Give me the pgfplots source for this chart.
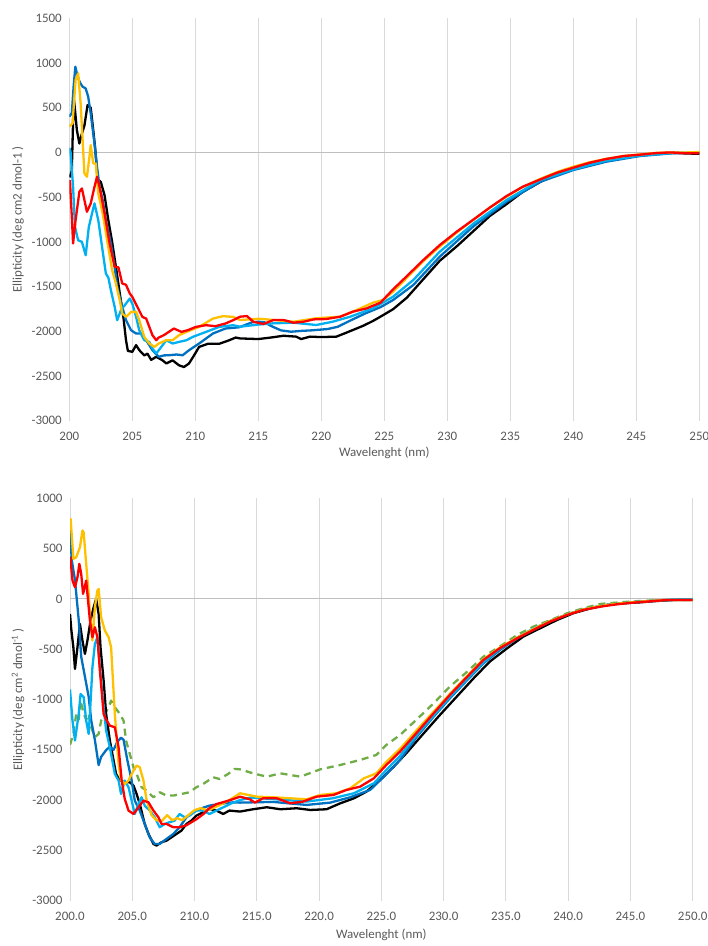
\documentclass[border=0pt]{standalone}
\usepackage{fontspec}
\setmainfont{Carlito}
\usepackage{pgfplots}
\pgfplotsset{compat=1.18}
\definecolor{txt}{HTML}{595959}
\definecolor{grd}{HTML}{D9D9D9}
\definecolor{zer}{HTML}{BFBFBF}
\definecolor{dblue}{RGB}{0,112,192}
\definecolor{lblue}{RGB}{0,176,240}
\definecolor{gold}{RGB}{255,192,0}
\definecolor{xred}{RGB}{255,0,0}
\definecolor{xgreen}{RGB}{112,173,71}
\pgfplotsset{
 cdstyle/.style={
  anchor=south west,
  scale only axis,
  xmin=200, xmax=250,
  axis line style={draw=none},
  major tick length=0pt,
  xtick={200,205,...,250},
  xmajorgrids,
  grid style={grd, line width=1bp},
  extra y ticks={0}, extra y tick labels={},
  extra y tick style={grid=major, grid style={zer, line width=1bp}},
  tick label style={font=\fontsize{13}{15}\selectfont, text=txt},
  label style={font=\fontsize{13}{15}\selectfont, text=txt},
  xticklabel style={yshift=-8bp},
  yticklabel style={xshift=-4bp},
  every axis plot/.append style={line width=2.3bp, line join=round, no marks},
  xlabel={Wavelenght (nm)},
 }
}
\begin{document}
\begin{tikzpicture}
\useasboundingbox (0,0) rectangle (708bp,946bp);
% ---------------- TOP PANEL ----------------
\begin{axis}[cdstyle,
  at={(69.3bp,525.3bp)}, width=630bp, height=402.4bp,
  ymin=-3000, ymax=1500,
  ytick={-3000,-2500,...,1500},
  yticklabels={-3000,-2500,-2000,-1500,-1000,-500,0,500,1000,1500},
  xticklabels={200,205,210,215,220,225,230,235,240,245,250},
  ylabel={Ellipticity (deg cm2 dmol-1 )},
  ylabel style={at={(axis description cs:-0.0814,0.5)}, anchor=center},
  xlabel style={at={(axis description cs:0.5,-0.079)}, anchor=center},
]
\addplot[black] coordinates {
(200.05,-280)(200.2,-200)(200.35,620)(200.45,480)(200.6,250)(200.8,100)(201.0,210)(201.2,300)(201.45,530)(201.7,500)(201.9,250)(202.05,50)(202.25,-300)(202.5,-330)(202.8,-480)(203.1,-760)(203.4,-1000)(203.7,-1280)(204.0,-1570)(204.3,-1850)(204.5,-2100)(204.65,-2220)(205.0,-2230)(205.3,-2155)(205.55,-2210)(205.95,-2270)(206.2,-2250)(206.5,-2320)(206.9,-2285)(207.4,-2325)(207.7,-2360)(208.2,-2325)(208.7,-2380)(209.1,-2400)(209.5,-2360)(209.9,-2270)(210.3,-2175)(211.0,-2140)(211.9,-2140)(212.7,-2100)(213.2,-2070)(213.55,-2080)(215.0,-2087)(216.0,-2070)(217.0,-2050)(218.0,-2060)(218.4,-2087)(219.1,-2060)(220.0,-2065)(221.2,-2060)(222.0,-2015)(223.3,-1940)(224.1,-1885)(224.9,-1820)(225.7,-1753)(226.8,-1623)(228.1,-1417)(229.4,-1212)(230.8,-1044)(232.1,-876)(233.4,-708)(234.7,-578)(236.0,-440)(237.4,-328)(238.7,-235)(240.0,-186)(241.3,-130)(242.6,-75)(244.0,-56)(245.3,-30)(246.6,-10)(248.0,-5)(249.0,-12)(250.0,-15)
};
\addplot[dblue] coordinates {
(200.0,400)(200.2,440)(200.35,750)(200.48,959)(200.66,847)(200.85,780)(201.06,735)(201.3,716)(201.5,623)(201.7,436)(202.0,100)(202.2,-160)(202.4,-384)(202.65,-533)(202.9,-757)(203.3,-1018)(203.6,-1279)(203.8,-1503)(204.2,-1727)(204.5,-1876)(204.9,-1988)(205.3,-2025)(205.7,-2025)(206.1,-2100)(206.6,-2212)(207.1,-2286)(207.5,-2270)(207.9,-2268)(208.5,-2260)(209.0,-2268)(209.5,-2212)(210.3,-2137)(211.4,-2025)(212.4,-1969)(213.5,-1955)(214.5,-1900)(215.0,-1893)(215.5,-1900)(216.0,-1940)(216.8,-1990)(217.6,-2005)(218.5,-1995)(219.2,-1990)(220.5,-1975)(221.3,-1950)(222.3,-1880)(223.5,-1800)(224.7,-1730)(225.7,-1650)(227.3,-1483)(229.4,-1166)(232.1,-823)(234.7,-551)(237.4,-327)(240.0,-197)(242.6,-104)(245.3,-40)(248.0,-8)(250.0,-5)
};
\addplot[lblue] coordinates {
(200.0,50)(200.1,7)(200.3,-385)(200.45,-833)(200.7,-982)(201.0,-1000)(201.3,-1150)(201.55,-833)(201.8,-684)(202.0,-570)(202.3,-758)(202.6,-1056)(202.9,-1354)(203.1,-1400)(203.3,-1540)(203.6,-1727)(203.8,-1876)(204.1,-1764)(204.5,-1690)(204.8,-1634)(205.0,-1690)(205.3,-1839)(205.55,-1988)(205.95,-2100)(206.35,-2119)(206.6,-2193)(206.9,-2249)(207.3,-2175)(207.7,-2100)(208.2,-2137)(208.7,-2119)(209.3,-2100)(209.8,-2063)(210.85,-2007)(211.9,-1951)(213.0,-1932)(213.55,-1949)(215.0,-1925)(216.2,-1911)(217.8,-1904)(219.6,-1930)(220.9,-1893)(222.3,-1837)(224.1,-1744)(225.7,-1613)(227.3,-1427)(229.4,-1110)(232.1,-793)(234.7,-532)(237.4,-308)(240.0,-189)(242.6,-92)(245.3,-36)(248.0,-5)(250.0,0)
};
\addplot[gold] coordinates {
(200.0,287)(200.26,325)(200.5,810)(200.7,884)(200.9,548)(201.2,-235)(201.4,-272)(201.6,-48)(201.7,82)(201.9,-123)(202.1,-123)(202.3,-459)(202.65,-683)(203.0,-981)(203.4,-1317)(203.7,-1466)(204.0,-1652)(204.2,-1802)(204.5,-1839)(204.9,-1783)(205.3,-1783)(205.55,-1876)(205.95,-2063)(206.35,-2137)(206.75,-2175)(207.1,-2137)(207.7,-2100)(208.2,-2100)(208.7,-2044)(209.3,-2007)(210.3,-1951)(211.4,-1858)(212.2,-1831)(213.0,-1839)(213.55,-1874)(214.0,-1870)(215.1,-1860)(216.2,-1874)(217.8,-1893)(219.6,-1855)(221.5,-1837)(222.8,-1763)(224.1,-1680)(224.9,-1650)(225.7,-1557)(226.8,-1400)(228.1,-1215)(229.4,-1054)(230.75,-895)(232.1,-750)(233.4,-615)(234.7,-495)(236.0,-385)(237.4,-295)(238.7,-220)(240.0,-160)(241.3,-110)(242.6,-72)(244.0,-40)(245.3,-22)(246.6,-5)(247.7,0)(249.0,0)(250.0,5)
};
\addplot[xred] coordinates {
(200.05,-310)(200.2,-720)(200.3,-1018)(200.5,-757)(200.8,-440)(201.0,-403)(201.2,-533)(201.4,-664)(201.7,-571)(202.0,-384)(202.2,-272)(202.4,-384)(202.8,-683)(203.2,-1018)(203.6,-1279)(203.9,-1285)(204.2,-1466)(204.5,-1480)(204.8,-1578)(205.0,-1615)(205.4,-1727)(205.8,-1839)(206.1,-1858)(206.35,-1951)(206.6,-2044)(206.9,-2100)(207.1,-2070)(207.5,-2044)(207.9,-2007)(208.3,-1969)(208.9,-2007)(209.4,-1988)(210.05,-1951)(210.85,-1932)(211.6,-1943)(212.4,-1913)(213.0,-1876)(213.55,-1837)(214.1,-1830)(214.6,-1893)(215.4,-1919)(216.2,-1874)(217.0,-1874)(217.8,-1904)(218.6,-1893)(219.4,-1867)(220.4,-1863)(221.5,-1837)(222.5,-1781)(223.6,-1744)(224.7,-1680)(225.7,-1531)(226.8,-1382)(228.1,-1203)(229.4,-1036)(230.75,-886)(232.1,-748)(233.4,-614)(234.7,-488)(236.0,-383)(237.4,-301)(238.7,-227)(240.0,-171)(241.3,-115)(242.6,-74)(244.0,-40)(245.3,-25)(246.6,-7)(247.7,0)(249.0,-10)(250.0,-10)
};
\end{axis}
% ---------------- BOTTOM PANEL ----------------
\begin{axis}[cdstyle,
  at={(70bp,45.3bp)}, width=622.7bp, height=402.4bp,
  ymin=-3000, ymax=1000,
  ytick={-3000,-2500,...,1000},
  yticklabels={-3000,-2500,-2000,-1500,-1000,-500,0,500,1000},
  xticklabels={200.0,205.0,210.0,215.0,220.0,225.0,230.0,235.0,240.0,245.0,250.0},
  ylabel={Ellipticity (deg cm\textsuperscript{2} dmol\textsuperscript{-1} )},
  ylabel style={at={(axis description cs:-0.0835,0.5)}, anchor=center},
  xlabel style={at={(axis description cs:0.5,-0.086)}, anchor=center},
]
\addplot[xgreen, dash pattern=on 7bp off 5bp] coordinates {
(200.0,-1450)(200.27,-1342)(200.5,-1143)(200.7,-1200)(200.85,-1011)(201.1,-1143)(201.3,-1200)(201.5,-1143)(201.7,-1276)(202.0,-1375)(202.3,-1342)(202.5,-1210)(202.8,-1143)(203.1,-1077)(203.3,-1011)(203.6,-1077)(204.0,-1143)(204.3,-1210)(204.5,-1408)(204.8,-1541)(205.1,-1674)(205.35,-1740)(205.75,-1872)(206.15,-1906)(206.7,-1972)(207.2,-1922)(207.75,-1955)(208.3,-1955)(208.95,-1939)(209.6,-1922)(210.15,-1872)(210.7,-1839)(211.5,-1773)(212.0,-1790)(212.7,-1740)(213.2,-1690)(213.65,-1694)(214.7,-1734)(215.8,-1767)(216.9,-1734)(218.5,-1767)(220.1,-1694)(221.7,-1651)(223.3,-1601)(224.6,-1551)(225.4,-1452)(226.5,-1353)(227.8,-1203)(229.2,-1038)(230.5,-872)(231.9,-723)(233.2,-574)(234.5,-475)(235.9,-359)(237.2,-276)(238.6,-210)(239.9,-143)(241.2,-94)(242.6,-50)(243.9,-37)(245.2,-24)(246.6,-17)(247.9,-11)(250.0,-11)
};
\addplot[black] coordinates {
(200.0,-150)(200.1,-300)(200.27,-481)(200.4,-696)(200.6,-481)(200.8,-249)(201.0,-414)(201.2,-547)(201.4,-414)(201.65,-215)(201.9,-83)(202.1,0)(202.3,-149)(202.45,-481)(202.7,-812)(202.9,-1143)(203.2,-1408)(203.5,-1607)(203.7,-1740)(204.0,-1806)(204.4,-1823)(204.8,-1823)(205.1,-1856)(205.35,-1939)(205.6,-2038)(206.0,-2237)(206.3,-2336)(206.7,-2436)(206.95,-2452)(207.35,-2419)(207.75,-2403)(208.15,-2370)(208.55,-2336)(208.95,-2303)(209.35,-2237)(209.75,-2204)(210.15,-2154)(210.7,-2121)(211.2,-2088)(211.75,-2104)(212.3,-2138)(212.8,-2104)(213.65,-2114)(214.7,-2091)(215.8,-2071)(216.9,-2091)(218.2,-2081)(219.3,-2098)(220.6,-2091)(221.7,-2032)(222.8,-1982)(223.8,-1916)(224.9,-1800)(226.0,-1667)(227.0,-1535)(228.4,-1336)(229.7,-1154)(231.05,-972)(232.4,-790)(233.7,-624)(235.1,-491)(236.4,-375)(237.75,-292)(239.1,-210)(240.4,-143)(241.8,-94)(243.1,-60)(244.4,-44)(245.8,-34)(247.1,-21)(248.5,-11)(250.0,-11)
};
\addplot[dblue] coordinates {
(200.0,700)(200.14,387)(200.4,188)(200.7,-210)(200.9,-575)(201.2,-774)(201.5,-973)(201.7,-1205)(202.0,-1404)(202.3,-1652)(202.5,-1570)(202.9,-1503)(203.2,-1470)(203.5,-1500)(203.8,-1420)(204.1,-1380)(204.3,-1400)(204.6,-1600)(204.95,-1806)(205.2,-2005)(205.6,-2104)(206.0,-2237)(206.4,-2370)(206.8,-2436)(207.2,-2436)(207.75,-2386)(208.3,-2336)(208.8,-2270)(209.35,-2171)(209.9,-2121)(210.4,-2088)(211.2,-2055)(212.0,-2038)(213.1,-2022)(213.65,-2025)(216.3,-2018)(219.0,-2048)(220.9,-2025)(222.5,-1972)(224.1,-1899)(225.2,-1767)(226.5,-1601)(227.85,-1369)(229.2,-1170)(230.5,-988)(231.9,-806)(233.2,-640)(234.6,-500)(236.0,-385)(237.4,-295)(238.7,-215)(240.0,-150)(241.4,-100)(242.8,-65)(244.2,-45)(245.6,-30)(247.0,-18)(248.5,-8)(250.0,-5)
};
\addplot[lblue] coordinates {
(200.0,-900)(200.05,-978)(200.2,-1210)(200.4,-1408)(200.7,-1143)(200.85,-945)(201.1,-978)(201.3,-1210)(201.5,-1342)(201.6,-1143)(201.8,-680)(202.0,-447)(202.2,-381)(202.4,-680)(202.7,-1077)(202.9,-1309)(203.2,-1475)(203.5,-1674)(203.6,-1740)(203.9,-1806)(204.1,-1939)(204.4,-1806)(204.7,-1872)(204.95,-2005)(205.2,-2138)(205.5,-2038)(205.75,-1972)(206.0,-2055)(206.4,-2104)(206.8,-2171)(207.2,-2270)(207.6,-2237)(208.0,-2220)(208.4,-2204)(208.8,-2138)(209.2,-2171)(209.6,-2154)(210.15,-2104)(210.7,-2104)(211.2,-2138)(211.75,-2104)(212.6,-2055)(213.0,-2030)(213.65,-2000)(214.5,-1975)(216.3,-1990)(219.0,-2015)(221.1,-1982)(222.8,-1932)(224.4,-1833)(225.4,-1700)(226.5,-1560)(227.8,-1360)(229.2,-1160)(230.5,-975)(231.9,-795)(233.2,-630)(234.5,-495)(235.9,-385)(237.2,-295)(238.6,-218)(239.9,-155)(241.2,-105)(242.6,-70)(243.9,-48)(245.2,-32)(246.6,-20)(247.9,-10)(250.0,-8)
};
\addplot[gold] coordinates {
(200.0,700)(200.05,795)(200.27,398)(200.5,414)(200.8,514)(201.0,680)(201.1,660)(201.3,348)(201.5,50)(201.6,-149)(201.8,-414)(202.0,-83)(202.2,83)(202.3,99)(202.5,-182)(202.8,-315)(203.1,-381)(203.3,-481)(203.6,-1143)(203.9,-1640)(204.1,-1806)(204.4,-1839)(204.7,-1806)(204.95,-1740)(205.35,-1657)(205.6,-1673)(205.9,-1806)(206.15,-2000)(206.55,-2150)(206.95,-2200)(207.35,-2210)(207.8,-2150)(208.2,-2200)(208.6,-2180)(209.0,-2200)(209.5,-2150)(210.0,-2100)(210.5,-2080)(211.0,-2100)(211.5,-2080)(212.0,-2050)(212.8,-2000)(213.65,-1932)(215.0,-1966)(216.3,-1972)(217.7,-1982)(219.0,-1992)(220.1,-1949)(221.4,-1932)(222.5,-1883)(223.6,-1783)(224.6,-1734)(225.4,-1620)(226.5,-1490)(227.8,-1310)(229.2,-1121)(230.5,-945)(231.9,-765)(233.2,-600)(234.5,-485)(235.9,-385)(237.2,-300)(238.55,-220)(239.9,-155)(241.2,-105)(242.6,-70)(243.9,-48)(245.25,-32)(246.6,-20)(247.9,-10)(250.0,-10)
};
\addplot[xred] coordinates {
(200.0,420)(200.05,381)(200.2,182)(200.4,116)(200.6,215)(200.75,348)(200.9,249)(201.05,50)(201.3,182)(201.5,-83)(201.6,-215)(201.8,-381)(202.0,-282)(202.2,-381)(202.4,-713)(202.7,-1143)(202.9,-1200)(203.2,-1260)(203.6,-1276)(203.9,-1475)(204.15,-1806)(204.4,-1990)(204.7,-2104)(205.1,-2138)(205.5,-2071)(205.9,-2005)(206.3,-2022)(206.7,-2104)(207.1,-2171)(207.35,-2237)(207.75,-2237)(208.3,-2270)(208.8,-2270)(209.35,-2250)(209.75,-2220)(210.15,-2190)(210.7,-2140)(211.2,-2080)(211.75,-2040)(212.6,-2010)(213.1,-1990)(213.65,-1966)(214.45,-1992)(214.85,-2025)(215.5,-1982)(216.6,-1982)(217.7,-2032)(218.7,-2015)(219.8,-1966)(221.15,-1949)(222.2,-1899)(223.3,-1866)(224.4,-1783)(225.4,-1651)(226.5,-1518)(227.8,-1336)(229.2,-1137)(230.5,-955)(231.9,-773)(233.2,-607)(234.5,-491)(235.9,-392)(237.2,-309)(238.55,-226)(239.9,-160)(241.2,-110)(242.6,-77)(243.9,-54)(245.25,-37)(246.6,-24)(247.9,-11)(250.0,-11)
};
\end{axis}
\end{tikzpicture}
\end{document}
